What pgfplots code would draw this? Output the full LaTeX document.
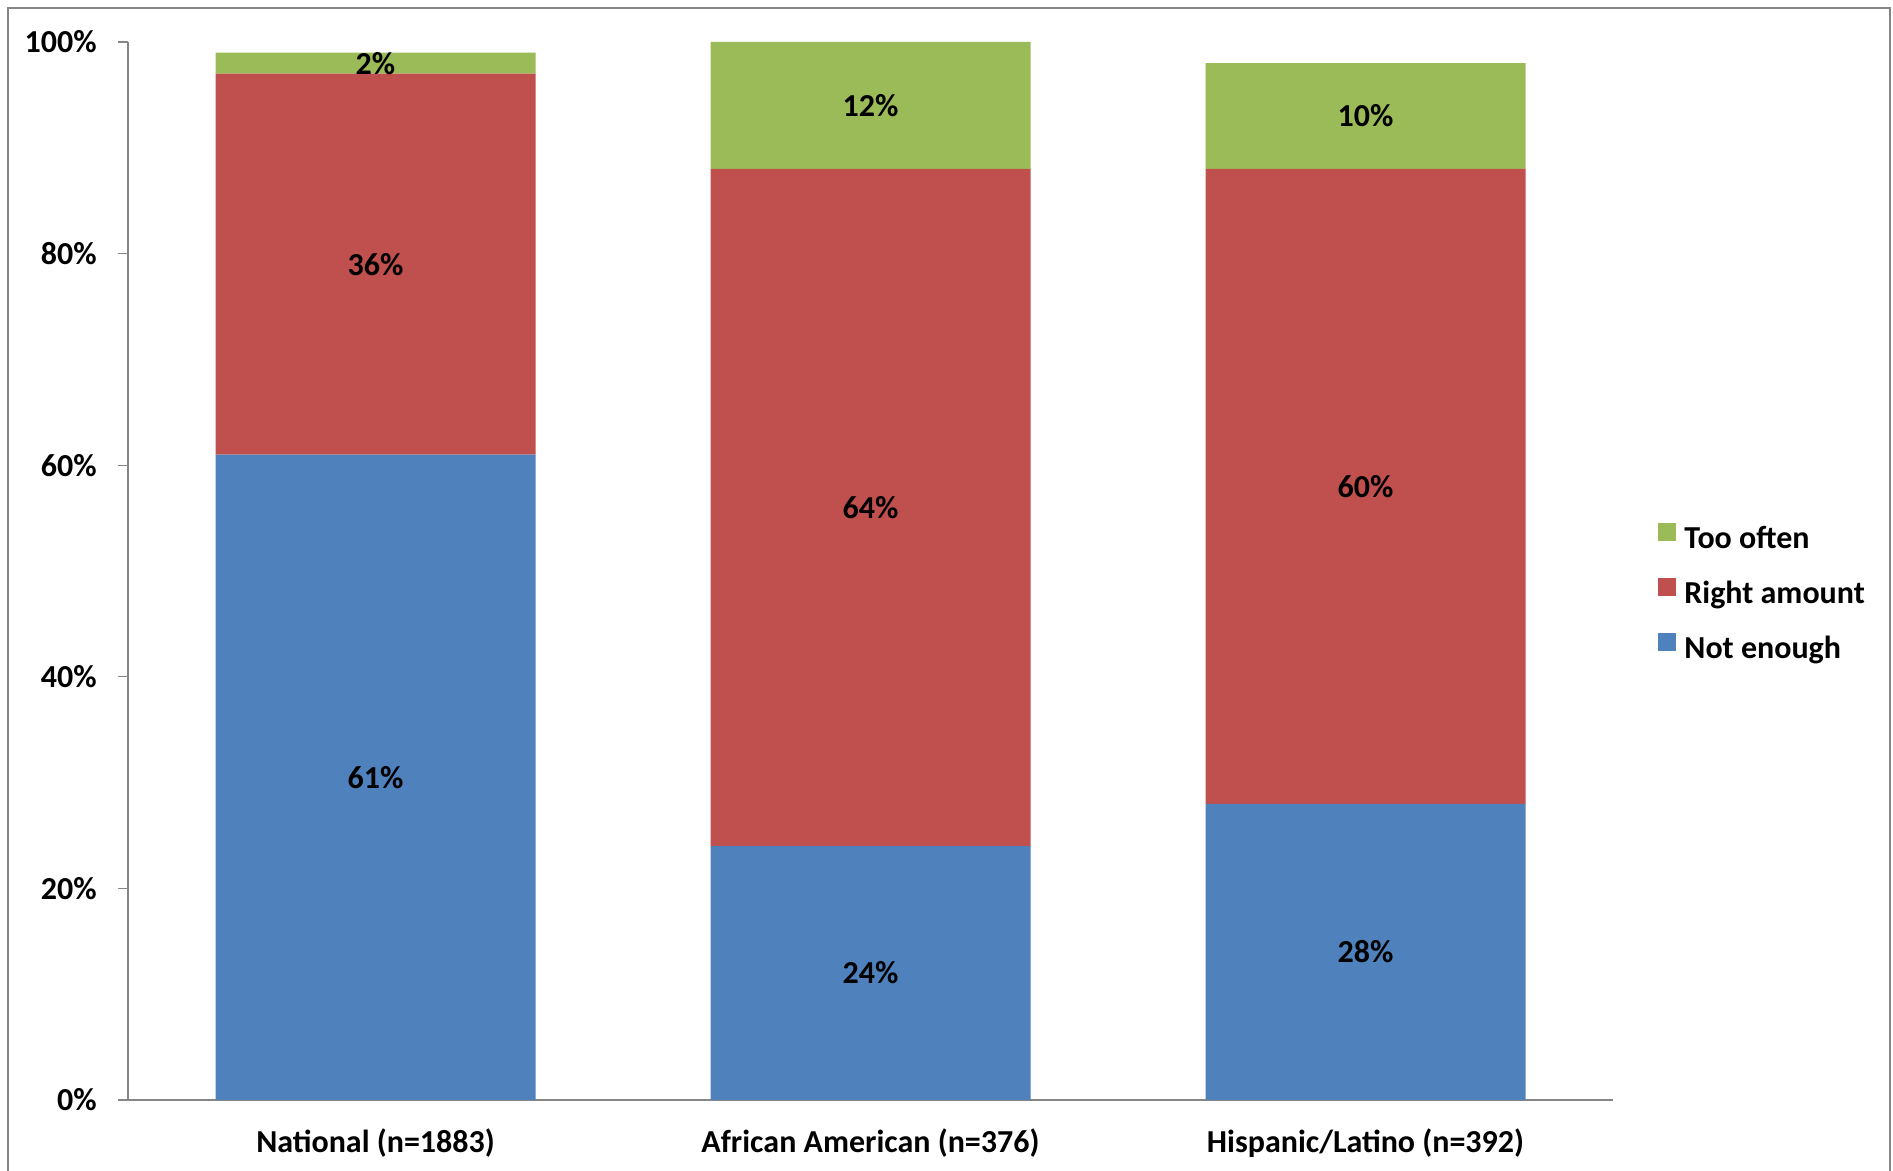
\documentclass[border=0pt]{standalone}
\usepackage{fontspec}
\setmainfont{Carlito}
\usepackage{pgfplots}
\pgfplotsset{compat=1.18}
\definecolor{cblue}{HTML}{4F81BD}
\definecolor{cred}{HTML}{C0504D}
\definecolor{cgreen}{HTML}{9BBB59}
\definecolor{axgray}{HTML}{868686}
\pgfkeys{/pgf/number format/assume math mode=true}
\begin{document}
\fontsize{16}{19}\selectfont\bfseries
\begin{tikzpicture}
\useasboundingbox (0,0) rectangle (946.5pt,585.5pt);
\draw[axgray, line width=1pt] (4pt,-5pt) -- (4pt,581.5pt) -- (945pt,581.5pt) -- (945pt,-5pt);
\begin{axis}[
  at={(64pt,35.5pt)}, anchor=south west,
  scale only axis, width=742.5pt, height=529pt,
  ybar stacked, bar width=160pt,
  xmin=-0.5, xmax=2.5, ymin=0, ymax=100,
  xtick={0,1,2},
  xticklabels={National (n=1883), African American (n=376), Hispanic/Latino (n=392)},
  ytick={0,20,40,60,80,100},
  yticklabels={0\%,20\%,40\%,60\%,80\%,100\%},
  axis lines*=left,
  axis line style={axgray, line width=0.65pt},
  tick style={axgray, line width=0.65pt},
  major tick length=5pt,
  tick align=outside,
  major x tick style={draw=none},
  yticklabel style={inner sep=0pt, xshift=-10.5pt},
  xticklabel style={inner sep=0pt, yshift=-9pt},
  legend style={at={(1.0303,0.4778)}, anchor=west, draw=none, fill=none, inner sep=0pt,
    row sep=11.2pt, column sep=4pt, nodes={inner sep=0pt, text height=11pt, text depth=3.5pt}},
  legend cell align=left,
  reverse legend,
  legend image code/.code={\fill[#1] (0pt,0pt) rectangle (9pt,9pt);},
  point meta=rawy,
  nodes near coords={\pgfmathprintnumber{\pgfplotspointmeta}\%},
  every node near coord/.append style={anchor=center, text=black},
]
\addplot[fill=cblue, draw=none] coordinates {(0,61) (1,24) (2,28)};
\addplot[fill=cred, draw=none] coordinates {(0,36) (1,64) (2,60)};
\addplot[fill=cgreen, draw=none] coordinates {(0,2) (1,12) (2,10)};
\legend{Not enough, Right amount, Too often}
\end{axis}
\end{tikzpicture}
\end{document}
